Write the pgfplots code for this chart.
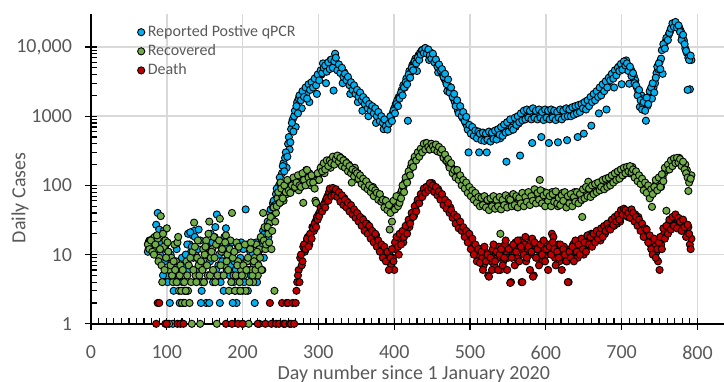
\documentclass[border=0pt]{standalone}
\usepackage{pgfplots}
\pgfplotsset{compat=1.18}
\usepackage{fontspec}
\setmainfont{Carlito}
\definecolor{cblue}{RGB}{0,176,240}
\definecolor{cgreen}{RGB}{112,173,71}
\definecolor{cred}{RGB}{192,0,0}
\definecolor{labgray}{RGB}{89,89,89}
\definecolor{gridgray}{RGB}{217,217,217}
\begin{document}
\begin{tikzpicture}
\begin{axis}[
  width=316.5pt, height=154.9pt, scale only axis,
  xmin=0, xmax=835, ymin=1, ymax=30000, ymode=log,
  axis x line=bottom, axis y line=left,
  axis line style={-, line width=0.75pt, black},
  xtick={0,100,200,300,400,500,600,700,800},
  xticklabels={0,100,200,300,400,500,600,700,800},
  minor x tick num=9,
  ytick={1,10,100,1000,10000},
  yticklabels={1,10,100,1000,{10,000}},
  grid=major, major grid style={line width=0.75pt, color=gridgray},
  tick align=center, major tick length=6pt, minor tick length=3pt,
  minor x tick style={yshift=1.5pt}, minor y tick style={xshift=1.5pt},
  tick style={black, line width=0.6pt},
  ticklabel style={font=\fontsize{10}{12}\selectfont, text=labgray},
  xticklabel style={yshift=-4.5pt},
  yticklabel style={xshift=-3pt},
  xlabel={Day number since 1 January 2020},
  ylabel={Daily Cases},
  label style={font=\fontsize{10}{12}\selectfont, text=labgray},
  xlabel style={at={(axis description cs:0.51,0)}, anchor=center, yshift=-25pt},
  ylabel style={at={(axis description cs:-0.1122,0.406)}, anchor=center},
  clip=false,
  legend style={draw=none, fill=none, at={(rel axis cs:0.073,0.975)}, anchor=north west,
    font=\fontsize{8}{9.5}\selectfont, text=labgray, row sep=-0.5pt, inner sep=0pt,
    nodes={inner sep=1.5pt}},
  legend cell align=left,
  legend image code/.code={\draw[#1] plot coordinates {(0pt,0pt)};},
  every axis plot/.append style={only marks, mark=*, mark size=1.8pt},
  bl/.style={mark options={fill=cblue, draw=black, line width=0.45pt}},
  gr/.style={mark options={fill=cgreen, draw=black, line width=0.45pt}},
  rd/.style={mark options={fill=cred, draw=black, line width=0.45pt}},
]
\addplot[bl] table[row sep=\\] {
x y\\
76 12\\ 78 15\\ 80 11\\ 82 16\\ 84 14\\ 86 27\\ 88 40\\ 90 23\\ 92 13\\ 94 9\\ 96 22\\ 98 12\\ 100 5\\ 102 11\\ 104 2\\ 106 8\\ 108 1\\ 110 5\\ 112 14\\ 114 4\\ 116 6\\ 118 2\\ 120 9\\ 122 2\\ 124 7\\ 126 3\\ 128 20\\ 130 14\\ 132 11\\ 134 19\\ 136 22\\ 138 10\\ 140 6\\ 142 23\\ 144 16\\ 146 3\\ 148 12\\ 150 8\\ 152 2\\ 154 10\\ 156 2\\ 158 20\\ 160 15\\ 162 9\\ 164 25\\ 166 38\\ 168 7\\ 170 2\\ 172 5\\ 174 11\\ 176 18\\ 178 24\\ 180 9\\ 182 12\\ 184 7\\ 186 15\\ 188 4\\ 190 3\\ 192 2\\ 194 12\\ 196 5\\ 198 15\\ 200 3\\ 202 4\\ 204 45\\ 206 14\\ 208 6\\ 210 11\\ 212 8\\ 214 5\\ 216 2\\ 218 15\\ 220 7\\ 222 1\\ 224 12\\ 226 13\\ 228 9\\ 230 16\\
232 25\\ 234 18\\ 236 40\\ 238 30\\ 240 55\\ 242 48\\ 244 75\\ 246 60\\ 248 100\\ 250 110\\ 252 150\\ 254 210\\ 256 250\\ 258 180\\ 260 400\\ 262 330\\ 264 650\\ 266 890\\ 268 1000\\ 270 700\\ 272 1600\\ 274 1800\\ 276 1900\\ 278 1300\\ 280 2100\\ 282 2300\\ 284 2100\\ 286 2600\\ 288 1600\\ 290 2700\\ 292 2900\\ 294 3200\\ 296 3000\\ 298 2100\\ 300 3600\\ 302 4100\\ 304 4000\\ 306 5800\\ 308 4700\\ 310 3000\\ 312 5200\\ 314 5600\\ 316 6500\\ 318 5400\\ 320 2350\\ 322 8000\\ 324 5800\\ 326 5200\\ 328 4900\\ 330 4600\\ 332 3000\\ 334 4300\\ 336 3800\\ 338 3500\\ 340 3300\\ 342 2100\\ 344 2900\\ 346 2700\\ 348 2500\\ 350 2300\\ 352 1600\\ 354 2100\\ 356 1900\\ 358 1200\\ 360 1800\\ 362 1650\\ 364 1500\\ 366 1000\\ 368 1400\\ 370 1350\\ 372 1250\\ 374 1200\\ 376 800\\ 378 1100\\ 380 1050\\ 382 950\\ 384 900\\ 386 650\\ 388 800\\ 390 700\\ 392 850\\ 394 900\\ 396 1000\\ 398 1100\\ 400 1300\\ 402 1500\\ 404 1700\\ 406 1900\\ 408 2000\\ 410 2400\\ 412 2800\\ 414 2600\\ 416 3500\\ 418 860\\ 420 4500\\ 422 4300\\ 424 5500\\ 426 6000\\ 428 6800\\ 430 4500\\ 432 7600\\ 434 8200\\ 436 8800\\ 438 9200\\ 440 9400\\ 442 9000\\ 444 8700\\ 446 6500\\ 448 8300\\ 450 7500\\ 452 7000\\ 454 6200\\ 456 5800\\ 458 4300\\ 460 5000\\ 462 4400\\ 464 4000\\ 466 3500\\ 468 3200\\ 470 2300\\ 472 2700\\ 474 2400\\ 476 2100\\ 478 1800\\ 480 1600\\ 482 1500\\ 484 1200\\ 486 1300\\ 488 1100\\ 490 950\\ 492 900\\ 494 800\\ 496 720\\ 498 300\\ 500 650\\ 502 680\\ 504 600\\ 506 560\\ 508 520\\ 510 550\\ 512 300\\ 514 560\\ 516 500\\ 518 480\\ 520 520\\ 522 300\\ 524 480\\ 526 520\\ 528 470\\ 530 500\\ 532 540\\ 534 490\\ 536 560\\ 538 500\\ 540 480\\ 542 620\\ 544 600\\ 546 650\\ 548 220\\ 550 700\\ 552 680\\ 554 750\\ 556 640\\ 558 800\\ 560 700\\ 562 850\\ 564 780\\ 566 270\\ 568 900\\ 570 1000\\ 572 950\\ 574 1100\\ 576 1050\\ 578 1000\\ 580 1100\\ 582 410\\ 584 1050\\ 586 1150\\ 588 1000\\ 590 1100\\ 592 1050\\ 594 500\\ 596 1100\\ 598 1000\\ 600 1150\\ 602 1050\\ 604 410\\ 606 1100\\ 608 1000\\ 610 1050\\ 612 1150\\ 614 1000\\ 616 420\\ 618 1100\\ 620 1000\\ 622 1050\\ 624 1150\\ 626 1100\\ 628 450\\ 630 1100\\ 632 1200\\ 634 1150\\ 636 1050\\ 638 1200\\ 640 1250\\ 642 500\\ 644 1200\\ 646 1300\\ 648 1250\\ 650 560\\ 652 1400\\ 654 1350\\ 656 1500\\ 658 1600\\ 660 730\\ 662 1700\\ 664 1800\\ 666 1950\\ 668 2100\\ 670 1100\\ 672 2300\\ 674 2500\\ 676 2700\\ 678 2900\\ 680 1250\\ 682 3100\\ 684 3400\\ 686 3700\\ 688 4000\\ 690 2600\\ 692 4400\\ 694 4800\\ 696 5200\\ 698 5000\\ 700 2900\\ 702 5600\\ 704 5900\\ 706 6400\\ 708 5200\\ 710 2950\\ 712 4800\\ 714 4300\\ 716 3800\\ 718 3300\\ 720 2600\\ 722 2300\\ 724 1360\\ 726 2000\\ 728 1500\\ 730 1800\\ 732 860\\ 734 1400\\ 736 1900\\ 738 2100\\ 740 1800\\ 742 2600\\ 744 3000\\ 746 4200\\ 748 4800\\ 750 6000\\ 752 6800\\ 754 4100\\ 756 11000\\ 758 12000\\ 760 12500\\ 762 15000\\ 764 17000\\ 766 19000\\ 768 21000\\ 770 22000\\ 772 21000\\ 774 20500\\ 776 19000\\ 778 17000\\ 780 14000\\ 782 12500\\ 784 9500\\ 786 8200\\ 788 7000\\ 790 2450\\ 792 6500\\
};
\addlegendentry{Reported Postive qPCR}
\addplot[bl, forget plot] table[row sep=\\] {
x y\\
75 11\\ 77 16\\ 79 13\\ 81 12\\ 83 15\\ 85 18\\ 87 16\\ 89 12\\ 91 10\\ 93 15\\ 95 5\\ 97 8\\ 99 14\\ 101 4\\ 103 6\\ 105 10\\ 107 5\\ 109 3\\ 111 7\\ 113 12\\ 115 5\\ 117 2\\ 119 6\\ 121 4\\ 123 3\\ 125 10\\ 127 14\\ 129 6\\ 131 21\\ 133 13\\ 135 9\\ 137 18\\ 139 5\\ 141 12\\ 143 8\\ 145 2\\ 147 6\\ 149 4\\ 151 10\\ 153 13\\ 155 5\\ 157 8\\ 159 12\\ 161 4\\ 163 18\\ 165 6\\ 167 14\\ 169 10\\ 171 4\\ 173 8\\ 175 3\\ 177 13\\ 179 6\\ 181 16\\ 183 5\\ 185 10\\ 187 2\\ 189 8\\ 191 6\\ 193 14\\ 195 3\\ 197 9\\ 199 5\\ 201 12\\ 203 6\\ 205 8\\ 207 3\\ 209 13\\ 211 5\\ 213 10\\ 215 7\\ 217 14\\ 219 4\\ 221 11\\ 223 6\\ 225 17\\ 227 22\\ 229 20\\ 231 24\\
233 30\\ 235 22\\ 237 45\\ 239 35\\ 241 60\\ 243 52\\ 245 90\\ 247 70\\ 249 130\\ 251 95\\ 253 190\\ 255 160\\ 257 300\\ 259 260\\ 261 500\\ 263 420\\ 265 800\\ 267 600\\ 269 1200\\ 271 1400\\ 273 1100\\ 275 2000\\ 277 1700\\ 279 2300\\ 281 1900\\ 283 2600\\ 285 1800\\ 287 2900\\ 289 2400\\ 291 3100\\ 293 2600\\ 295 3500\\ 297 2800\\ 299 4000\\ 301 3300\\ 303 4600\\ 305 4200\\ 307 5000\\ 309 5400\\ 311 4400\\ 313 6000\\ 315 4800\\ 317 6600\\ 319 5000\\ 321 6200\\ 323 7000\\ 325 4600\\ 327 5600\\ 329 4200\\ 331 5000\\ 333 3700\\ 335 4100\\ 337 3300\\ 339 3700\\ 341 2800\\ 343 3100\\ 345 2400\\ 347 2800\\ 349 2100\\ 351 2400\\ 353 1900\\ 355 2200\\ 357 1700\\ 359 1900\\ 361 1500\\ 363 1700\\ 365 1300\\ 367 1500\\ 369 1200\\ 371 1400\\ 373 1100\\ 375 1300\\ 377 1000\\ 379 1150\\ 381 850\\ 383 1000\\ 385 800\\ 387 900\\ 389 720\\ 391 640\\ 393 780\\ 395 1000\\ 397 850\\ 399 1200\\ 401 1100\\ 403 1500\\ 405 1400\\ 407 1800\\ 409 2200\\ 411 2000\\ 413 2600\\ 415 3100\\ 417 2900\\ 419 4000\\ 421 3600\\ 423 5000\\ 425 4600\\ 427 6200\\ 429 5800\\ 431 7000\\ 433 6500\\ 435 7800\\ 437 9000\\ 439 8200\\ 441 9700\\ 443 8000\\ 445 9200\\ 447 7600\\ 449 6800\\ 451 8000\\ 453 6000\\ 455 6600\\ 457 5200\\ 459 5600\\ 461 4600\\ 463 4800\\ 465 3700\\ 467 4100\\ 469 2900\\ 471 3400\\ 473 2200\\ 475 2600\\ 477 1900\\ 479 2100\\ 481 1400\\ 483 1700\\ 485 1100\\ 487 1400\\ 489 1000\\ 491 1150\\ 493 850\\ 495 980\\ 497 640\\ 499 750\\ 501 560\\ 503 700\\ 505 520\\ 507 620\\ 509 480\\ 511 600\\ 513 560\\ 515 450\\ 517 580\\ 519 440\\ 521 560\\ 523 460\\ 525 600\\ 527 430\\ 529 580\\ 531 470\\ 533 620\\ 535 460\\ 537 650\\ 539 540\\ 541 700\\ 543 520\\ 545 760\\ 547 580\\ 549 820\\ 551 600\\ 553 900\\ 555 680\\ 557 640\\ 559 950\\ 561 750\\ 563 1000\\ 565 820\\ 567 1100\\ 569 870\\ 571 1200\\ 573 900\\ 575 1250\\ 577 950\\ 579 1200\\ 581 900\\ 583 1300\\ 585 950\\ 587 1200\\ 589 900\\ 591 1250\\ 593 950\\ 595 1150\\ 597 880\\ 599 1250\\ 601 950\\ 603 1200\\ 605 900\\ 607 1250\\ 609 950\\ 611 1200\\ 613 880\\ 615 1150\\ 617 950\\ 619 1250\\ 621 900\\ 623 1200\\ 625 980\\ 627 1300\\ 629 1000\\ 631 1250\\ 633 1000\\ 635 1350\\ 637 1050\\ 639 1400\\ 641 1100\\ 643 1450\\ 645 1150\\ 647 1500\\ 649 1300\\ 651 1600\\ 653 1250\\ 655 1700\\ 657 1400\\ 659 1900\\ 661 1600\\ 663 2100\\ 665 1700\\ 667 2300\\ 669 1900\\ 671 2600\\ 673 2000\\ 675 2900\\ 677 2300\\ 679 3200\\ 681 2600\\ 683 3600\\ 685 3300\\ 687 4100\\ 689 3500\\ 691 4600\\ 693 3900\\ 695 5000\\ 697 4500\\ 699 5700\\ 701 4700\\ 703 6200\\ 705 5400\\ 707 5800\\ 709 4500\\ 711 5200\\ 713 3800\\ 715 4200\\ 717 3000\\ 719 2800\\ 721 2000\\ 723 2400\\ 725 1700\\ 727 1250\\ 729 1600\\ 731 1200\\ 733 1850\\ 735 1500\\ 737 2300\\ 739 2600\\ 741 3000\\ 743 2200\\ 745 3600\\ 747 5200\\ 749 5800\\ 751 4800\\ 753 9000\\ 755 11000\\ 757 9500\\ 759 13500\\ 761 12600\\ 763 16000\\ 765 18500\\ 767 22000\\ 769 19500\\ 771 23000\\ 773 19000\\ 775 20500\\ 777 16500\\ 779 12600\\ 781 15000\\ 783 11000\\ 785 8800\\ 787 2400\\ 789 6500\\ 791 7500\\
};
\addplot[gr] table[row sep=\\] {
x y\\
76 15\\ 78 16\\ 80 13\\ 82 17\\ 84 18\\ 86 12\\ 88 17\\ 90 9\\ 92 36\\ 94 4\\ 96 13\\ 98 16\\ 100 24\\ 102 11\\ 104 6\\ 106 9\\ 108 4\\ 110 14\\ 112 8\\ 114 15\\ 116 3\\ 118 7\\ 120 2\\ 122 5\\ 124 2\\ 126 8\\ 128 3\\ 130 2\\ 132 4\\ 134 11\\ 136 29\\ 138 5\\ 140 9\\ 142 7\\ 144 1\\ 146 4\\ 148 12\\ 150 10\\ 152 16\\ 154 5\\ 156 30\\ 158 9\\ 160 12\\ 162 18\\ 164 4\\ 166 1\\ 168 14\\ 170 33\\ 172 11\\ 174 15\\ 176 7\\ 178 19\\ 180 10\\ 182 3\\ 184 16\\ 186 40\\ 188 5\\ 190 3\\ 192 15\\ 194 8\\ 196 4\\ 198 6\\ 200 1\\ 202 5\\ 204 3\\ 206 8\\ 208 1\\ 210 12\\ 212 6\\ 214 4\\ 216 9\\ 218 14\\ 220 5\\ 222 12\\ 224 18\\ 226 6\\ 228 16\\ 230 12\\
234 20\\ 236 29\\ 238 12\\ 240 48\\ 242 3\\ 244 40\\ 246 65\\ 248 55\\ 250 110\\ 252 70\\ 254 60\\ 256 90\\ 258 75\\ 260 100\\ 262 78\\ 264 110\\ 266 90\\ 268 120\\ 270 100\\ 272 130\\ 274 85\\ 276 133\\ 278 110\\ 280 56\\ 282 140\\ 284 167\\ 286 120\\ 288 150\\ 290 100\\ 292 110\\ 294 130\\ 296 60\\ 298 120\\ 300 140\\ 302 160\\ 304 185\\ 306 190\\ 308 150\\ 310 210\\ 312 200\\ 314 230\\ 316 180\\ 318 240\\ 320 220\\ 322 250\\ 324 260\\ 326 230\\ 328 260\\ 330 200\\ 332 240\\ 334 210\\ 336 220\\ 338 180\\ 340 200\\ 342 170\\ 344 110\\ 346 150\\ 348 180\\ 350 140\\ 352 150\\ 354 120\\ 356 130\\ 358 115\\ 360 110\\ 362 100\\ 364 110\\ 366 95\\ 368 90\\ 370 85\\ 372 95\\ 374 80\\ 376 78\\ 378 70\\ 380 72\\ 382 65\\ 384 60\\ 386 62\\ 388 55\\ 390 50\\ 392 45\\ 394 23\\ 396 48\\ 398 44\\ 400 50\\ 402 55\\ 404 60\\ 406 56\\ 408 75\\ 410 85\\ 412 95\\ 414 110\\ 416 120\\ 418 140\\ 420 160\\ 422 185\\ 424 200\\ 426 230\\ 428 250\\ 430 270\\ 432 300\\ 434 290\\ 436 320\\ 438 350\\ 440 380\\ 442 410\\ 444 380\\ 446 330\\ 448 360\\ 450 390\\ 452 350\\ 454 380\\ 456 340\\ 458 360\\ 460 330\\ 462 300\\ 464 280\\ 466 260\\ 468 230\\ 470 220\\ 472 200\\ 474 190\\ 476 180\\ 478 160\\ 480 150\\ 482 167\\ 484 140\\ 486 130\\ 488 120\\ 490 110\\ 492 100\\ 494 105\\ 496 90\\ 498 85\\ 500 80\\ 502 78\\ 504 75\\ 506 70\\ 508 62\\ 510 70\\ 512 65\\ 514 60\\ 516 58\\ 518 62\\ 520 55\\ 522 62\\ 524 50\\ 526 58\\ 528 52\\ 530 48\\ 532 60\\ 534 55\\ 536 49\\ 538 52\\ 540 20\\ 542 56\\ 544 60\\ 546 65\\ 548 52\\ 550 58\\ 552 62\\ 554 70\\ 556 55\\ 558 60\\ 560 50\\ 562 65\\ 564 58\\ 566 56\\ 568 70\\ 570 62\\ 572 75\\ 574 60\\ 576 68\\ 578 55\\ 580 72\\ 582 78\\ 584 60\\ 586 82\\ 588 65\\ 590 70\\ 592 120\\ 594 75\\ 596 60\\ 598 80\\ 600 65\\ 602 58\\ 604 72\\ 606 60\\ 608 80\\ 610 55\\ 612 68\\ 614 75\\ 616 50\\ 618 70\\ 620 62\\ 622 78\\ 624 55\\ 626 65\\ 628 62\\ 630 70\\ 632 58\\ 634 75\\ 636 60\\ 638 80\\ 640 65\\ 642 72\\ 644 78\\ 646 60\\ 648 35\\ 650 85\\ 652 70\\ 654 80\\ 656 113\\ 658 75\\ 660 90\\ 662 80\\ 664 95\\ 666 85\\ 668 100\\ 670 90\\ 672 86\\ 674 105\\ 676 95\\ 678 110\\ 680 100\\ 682 120\\ 684 105\\ 686 125\\ 688 115\\ 690 135\\ 692 120\\ 694 133\\ 696 145\\ 698 130\\ 700 150\\ 702 140\\ 704 160\\ 706 170\\ 708 180\\ 710 150\\ 712 175\\ 714 185\\ 716 160\\ 718 150\\ 720 140\\ 722 130\\ 724 133\\ 726 120\\ 728 100\\ 730 95\\ 732 85\\ 734 78\\ 736 90\\ 738 70\\ 740 49\\ 742 80\\ 744 100\\ 746 90\\ 748 110\\ 750 120\\ 752 95\\ 754 130\\ 756 150\\ 758 170\\ 760 167\\ 762 190\\ 764 210\\ 766 200\\ 768 235\\ 770 220\\ 772 240\\ 774 230\\ 776 250\\ 778 220\\ 780 210\\ 782 190\\ 784 200\\ 786 167\\ 788 83\\ 790 120\\ 792 140\\
};
\addlegendentry{Recovered}
\addplot[gr, forget plot] table[row sep=\\] {
x y\\
75 14\\ 77 12\\ 79 16\\ 81 11\\ 83 10\\ 85 14\\ 87 19\\ 89 8\\ 91 12\\ 93 7\\ 95 20\\ 97 6\\ 99 9\\ 101 15\\ 103 1\\ 105 7\\ 107 5\\ 109 8\\ 111 6\\ 113 4\\ 115 18\\ 117 5\\ 119 3\\ 121 6\\ 123 4\\ 125 3\\ 127 5\\ 129 7\\ 131 9\\ 133 1\\ 135 6\\ 137 13\\ 139 4\\ 141 16\\ 143 5\\ 145 8\\ 147 6\\ 149 4\\ 151 13\\ 153 7\\ 155 20\\ 157 5\\ 159 11\\ 161 6\\ 163 9\\ 165 14\\ 167 5\\ 169 16\\ 171 7\\ 173 12\\ 175 5\\ 177 15\\ 179 8\\ 181 6\\ 183 12\\ 185 4\\ 187 9\\ 189 11\\ 191 5\\ 193 7\\ 195 13\\ 197 3\\ 199 5\\ 201 7\\ 203 14\\ 205 6\\ 207 9\\ 209 4\\ 211 15\\ 213 5\\ 215 8\\ 217 6\\ 219 11\\ 221 7\\ 223 9\\ 225 6\\ 227 40\\ 229 25\\ 231 14\\
233 25\\ 235 15\\ 237 35\\ 239 22\\ 241 48\\ 243 30\\ 245 50\\ 247 80\\ 249 56\\ 251 90\\ 253 65\\ 255 100\\ 257 80\\ 259 120\\ 261 85\\ 263 78\\ 265 100\\ 267 130\\ 269 95\\ 271 110\\ 273 140\\ 275 100\\ 277 95\\ 279 150\\ 281 120\\ 283 100\\ 285 167\\ 287 130\\ 289 110\\ 291 140\\ 293 110\\ 295 90\\ 297 56\\ 299 150\\ 301 120\\ 303 180\\ 305 160\\ 307 210\\ 309 170\\ 311 230\\ 313 190\\ 315 230\\ 317 210\\ 319 260\\ 321 200\\ 323 240\\ 325 270\\ 327 220\\ 329 250\\ 331 190\\ 333 230\\ 335 180\\ 337 210\\ 339 160\\ 341 190\\ 343 150\\ 345 170\\ 347 135\\ 349 160\\ 351 150\\ 353 125\\ 355 140\\ 357 105\\ 359 125\\ 361 95\\ 363 115\\ 365 88\\ 367 100\\ 369 80\\ 371 92\\ 373 70\\ 375 85\\ 377 78\\ 379 62\\ 381 75\\ 383 58\\ 385 62\\ 387 48\\ 389 60\\ 391 44\\ 393 52\\ 395 40\\ 397 30\\ 399 60\\ 401 45\\ 403 70\\ 405 50\\ 407 56\\ 409 65\\ 411 100\\ 413 80\\ 415 130\\ 417 110\\ 419 160\\ 421 140\\ 423 210\\ 425 185\\ 427 260\\ 429 230\\ 431 300\\ 433 260\\ 435 340\\ 437 300\\ 439 400\\ 441 330\\ 443 410\\ 445 360\\ 447 330\\ 449 400\\ 451 370\\ 453 330\\ 455 390\\ 457 310\\ 459 360\\ 461 300\\ 463 330\\ 465 250\\ 467 280\\ 469 230\\ 471 240\\ 473 180\\ 475 210\\ 477 150\\ 479 167\\ 481 130\\ 483 167\\ 485 120\\ 487 140\\ 489 100\\ 491 120\\ 493 90\\ 495 110\\ 497 78\\ 499 95\\ 501 70\\ 503 85\\ 505 62\\ 507 78\\ 509 56\\ 511 68\\ 513 50\\ 515 66\\ 517 52\\ 519 70\\ 521 48\\ 523 62\\ 525 44\\ 527 65\\ 529 50\\ 531 70\\ 533 46\\ 535 62\\ 537 50\\ 539 68\\ 541 45\\ 543 62\\ 545 52\\ 547 72\\ 549 48\\ 551 65\\ 553 62\\ 555 50\\ 557 75\\ 559 52\\ 561 70\\ 563 48\\ 565 66\\ 567 55\\ 569 78\\ 571 50\\ 573 68\\ 575 58\\ 577 80\\ 579 52\\ 581 70\\ 583 60\\ 585 88\\ 587 55\\ 589 78\\ 591 62\\ 593 85\\ 595 55\\ 597 72\\ 599 50\\ 601 78\\ 603 60\\ 605 70\\ 607 50\\ 609 75\\ 611 58\\ 613 82\\ 615 55\\ 617 66\\ 619 52\\ 621 72\\ 623 60\\ 625 80\\ 627 48\\ 629 70\\ 631 55\\ 633 75\\ 635 50\\ 637 68\\ 639 58\\ 641 80\\ 643 55\\ 645 75\\ 647 62\\ 649 88\\ 651 65\\ 653 95\\ 655 70\\ 657 90\\ 659 68\\ 661 100\\ 663 75\\ 665 105\\ 667 80\\ 669 110\\ 671 85\\ 673 95\\ 675 120\\ 677 88\\ 679 125\\ 681 95\\ 683 130\\ 685 100\\ 687 140\\ 689 110\\ 691 150\\ 693 120\\ 695 160\\ 697 125\\ 699 170\\ 701 140\\ 703 180\\ 705 150\\ 707 185\\ 709 160\\ 711 190\\ 713 155\\ 715 170\\ 717 130\\ 719 160\\ 721 115\\ 723 140\\ 725 105\\ 727 125\\ 729 85\\ 731 110\\ 733 78\\ 735 100\\ 737 65\\ 739 88\\ 741 75\\ 743 95\\ 745 120\\ 747 85\\ 749 130\\ 751 95\\ 753 145\\ 755 115\\ 757 180\\ 759 43\\ 761 200\\ 763 170\\ 765 230\\ 767 190\\ 769 245\\ 771 210\\ 773 250\\ 775 215\\ 777 240\\ 779 190\\ 781 220\\ 783 170\\ 785 150\\ 787 130\\ 789 110\\ 791 125\\
};
\addplot[rd] table[row sep=\\] {
x y\\
86 1\\ 88 2\\ 90 2\\ 98 1\\ 100 1\\ 114 1\\ 118 1\\ 122 1\\ 178 1\\ 186 1\\ 194 1\\ 200 1\\ 220 1\\ 230 1\\ 236 2\\ 238 1\\ 244 1\\ 248 1\\ 252 2\\ 254 1\\ 256 1\\ 258 2\\ 260 2\\ 262 1\\ 264 1\\ 266 2\\ 268 1\\ 270 2\\
272 4\\ 274 6\\ 276 9\\ 278 7\\ 280 13\\ 282 11\\ 284 15\\ 286 18\\ 288 14\\ 290 20\\ 292 25\\ 294 22\\ 296 30\\ 298 35\\ 300 38\\ 302 42\\ 304 45\\ 306 50\\ 308 55\\ 310 62\\ 312 70\\ 314 80\\ 316 88\\ 318 75\\ 320 85\\ 322 82\\ 324 78\\ 326 72\\ 328 68\\ 330 65\\ 332 60\\ 334 66\\ 336 55\\ 338 58\\ 340 50\\ 342 45\\ 344 48\\ 346 40\\ 348 42\\ 350 36\\ 352 38\\ 354 32\\ 356 30\\ 358 33\\ 360 27\\ 362 25\\ 364 28\\ 366 22\\ 368 24\\ 370 20\\ 372 18\\ 374 17\\ 376 19\\ 378 15\\ 380 13\\ 382 14\\ 384 12\\ 386 10\\ 388 11\\ 390 9\\ 392 8\\ 394 10\\ 396 7\\ 398 9\\ 400 6\\ 402 12\\ 404 14\\ 406 10\\ 408 16\\ 410 18\\ 412 15\\ 414 20\\ 416 22\\ 418 28\\ 420 25\\ 422 33\\ 424 40\\ 426 36\\ 428 45\\ 430 55\\ 432 60\\ 434 65\\ 436 72\\ 438 80\\ 440 85\\ 442 95\\ 444 90\\ 446 100\\ 448 105\\ 450 108\\ 452 98\\ 454 92\\ 456 85\\ 458 88\\ 460 75\\ 462 70\\ 464 65\\ 466 60\\ 468 55\\ 470 50\\ 472 45\\ 474 48\\ 476 40\\ 478 38\\ 480 35\\ 482 32\\ 484 30\\ 486 28\\ 488 25\\ 490 24\\ 492 22\\ 494 20\\ 496 19\\ 498 17\\ 500 18\\ 502 15\\ 504 14\\ 506 12\\ 508 13\\ 510 10\\ 512 8\\ 514 12\\ 516 9\\ 518 7\\ 520 11\\ 522 9\\ 524 5\\ 526 10\\ 528 8\\ 530 12\\ 532 7\\ 534 10\\ 536 9\\ 538 13\\ 540 6\\ 542 11\\ 544 8\\ 546 14\\ 548 10\\ 550 9\\ 552 12\\ 554 4\\ 556 13\\ 558 10\\ 560 15\\ 562 9\\ 564 12\\ 566 16\\ 568 4\\ 570 11\\ 572 14\\ 574 8\\ 576 12\\ 578 10\\ 580 15\\ 582 17\\ 584 5\\ 586 12\\ 588 14\\ 590 9\\ 592 11\\ 594 13\\ 596 8\\ 598 12\\ 600 10\\ 602 14\\ 604 11\\ 606 12\\ 608 20\\ 610 18\\ 612 9\\ 614 12\\ 616 14\\ 618 8\\ 620 11\\ 622 10\\ 624 13\\ 626 9\\ 628 8\\ 630 4\\ 632 12\\ 634 10\\ 636 14\\ 638 11\\ 640 15\\ 642 9\\ 644 13\\ 646 12\\ 648 16\\ 650 10\\ 652 14\\ 654 18\\ 656 13\\ 658 15\\ 660 20\\ 662 17\\ 664 16\\ 666 19\\ 668 22\\ 670 18\\ 672 16\\ 674 21\\ 676 24\\ 678 20\\ 680 26\\ 682 23\\ 684 25\\ 686 28\\ 688 30\\ 690 26\\ 692 32\\ 694 28\\ 696 34\\ 698 30\\ 700 36\\ 702 42\\ 704 40\\ 706 38\\ 708 35\\ 710 42\\ 712 37\\ 714 40\\ 716 33\\ 718 38\\ 720 30\\ 722 35\\ 724 28\\ 726 26\\ 728 22\\ 730 20\\ 732 23\\ 734 18\\ 736 16\\ 738 14\\ 740 12\\ 742 15\\ 744 13\\ 746 11\\ 748 8\\ 750 6\\ 752 14\\ 754 18\\ 756 20\\ 758 24\\ 760 22\\ 762 28\\ 764 25\\ 766 33\\ 768 30\\ 770 36\\ 772 28\\ 774 32\\ 776 26\\ 778 30\\ 780 24\\ 782 28\\ 784 22\\ 786 20\\ 788 25\\ 790 14\\ 792 17\\
};
\addlegendentry{Death}
\addplot[rd, forget plot] table[row sep=\\] {
x y\\
271 3\\ 273 5\\ 275 4\\ 277 10\\ 279 8\\ 281 14\\ 283 12\\ 285 17\\ 287 13\\ 289 20\\ 291 17\\ 293 24\\ 295 28\\ 297 25\\ 299 32\\ 301 36\\ 303 48\\ 305 42\\ 307 52\\ 309 48\\ 311 65\\ 313 60\\ 315 90\\ 317 70\\ 319 92\\ 321 72\\ 323 88\\ 325 68\\ 327 80\\ 329 58\\ 331 72\\ 333 52\\ 335 62\\ 337 48\\ 339 56\\ 341 42\\ 343 52\\ 345 38\\ 347 45\\ 349 34\\ 351 40\\ 353 30\\ 355 35\\ 357 26\\ 359 32\\ 361 22\\ 363 28\\ 365 20\\ 367 26\\ 369 17\\ 371 22\\ 373 15\\ 375 20\\ 377 13\\ 379 16\\ 381 11\\ 383 14\\ 385 9\\ 387 13\\ 389 8\\ 391 11\\ 393 6\\ 395 9\\ 397 12\\ 399 8\\ 401 15\\ 403 18\\ 405 13\\ 407 20\\ 409 14\\ 411 22\\ 413 18\\ 415 26\\ 417 20\\ 419 32\\ 421 28\\ 423 40\\ 425 35\\ 427 50\\ 429 42\\ 431 62\\ 433 55\\ 435 75\\ 437 68\\ 439 90\\ 441 78\\ 443 95\\ 445 85\\ 447 108\\ 449 92\\ 451 100\\ 453 80\\ 455 95\\ 457 72\\ 459 82\\ 461 62\\ 463 75\\ 465 52\\ 467 62\\ 469 46\\ 471 56\\ 473 40\\ 475 44\\ 477 34\\ 479 38\\ 481 28\\ 483 35\\ 485 24\\ 487 30\\ 489 22\\ 491 25\\ 493 18\\ 495 22\\ 497 15\\ 499 20\\ 501 12\\ 503 17\\ 505 10\\ 507 14\\ 509 8\\ 511 12\\ 513 7.6\\ 515 11\\ 517 6\\ 519 13\\ 521 8\\ 523 10\\ 525 4.8\\ 527 9\\ 529 6\\ 531 14\\ 533 8\\ 535 11\\ 537 6\\ 539 10\\ 541 12\\ 543 7\\ 545 9\\ 547 16\\ 549 6\\ 551 12\\ 553 3.9\\ 555 9\\ 557 14\\ 559 7\\ 561 11\\ 563 16\\ 565 8\\ 567 13\\ 569 4\\ 571 10\\ 573 18\\ 575 9\\ 577 13\\ 579 6\\ 581 11\\ 583 4.8\\ 585 15\\ 587 9\\ 589 12\\ 591 7\\ 593 14\\ 595 10\\ 597 16\\ 599 8\\ 601 12\\ 603 6\\ 605 13\\ 607 10\\ 609 15\\ 611 12\\ 613 7\\ 615 11\\ 617 9\\ 619 14\\ 621 6\\ 623 12\\ 625 10\\ 627 8\\ 629 4\\ 631 11\\ 633 9\\ 635 13\\ 637 8\\ 639 16\\ 641 11\\ 643 14\\ 645 10\\ 647 17\\ 649 12\\ 651 15\\ 653 11\\ 655 19\\ 657 14\\ 659 18\\ 661 13\\ 663 20\\ 665 15\\ 667 22\\ 669 17\\ 671 20\\ 673 24\\ 675 18\\ 677 26\\ 679 22\\ 681 28\\ 683 24\\ 685 23\\ 687 32\\ 689 27\\ 691 35\\ 693 30\\ 695 38\\ 697 32\\ 699 44\\ 701 38\\ 703 46\\ 705 44\\ 707 36\\ 709 40\\ 711 34\\ 713 45\\ 715 40\\ 717 30\\ 719 35\\ 721 26\\ 723 32\\ 725 22\\ 727 28\\ 729 18\\ 731 24\\ 733 23\\ 735 15\\ 737 19\\ 739 12\\ 741 10\\ 743 17\\ 745 9\\ 747 12\\ 749 15\\ 751 18\\ 753 12\\ 755 24\\ 757 17\\ 759 26\\ 761 20\\ 763 32\\ 765 23\\ 767 35\\ 769 26\\ 771 38\\ 773 24\\ 775 34\\ 777 30\\ 779 22\\ 781 32\\ 783 25\\ 785 18\\ 787 27\\ 789 20\\ 791 12\\
};
\end{axis}
\pgfresetboundingbox
\path ([shift={(-45.5pt,-29pt)}]current axis.south west) rectangle ([shift={(0pt,7pt)}]current axis.north east);
\end{tikzpicture}
\end{document}
